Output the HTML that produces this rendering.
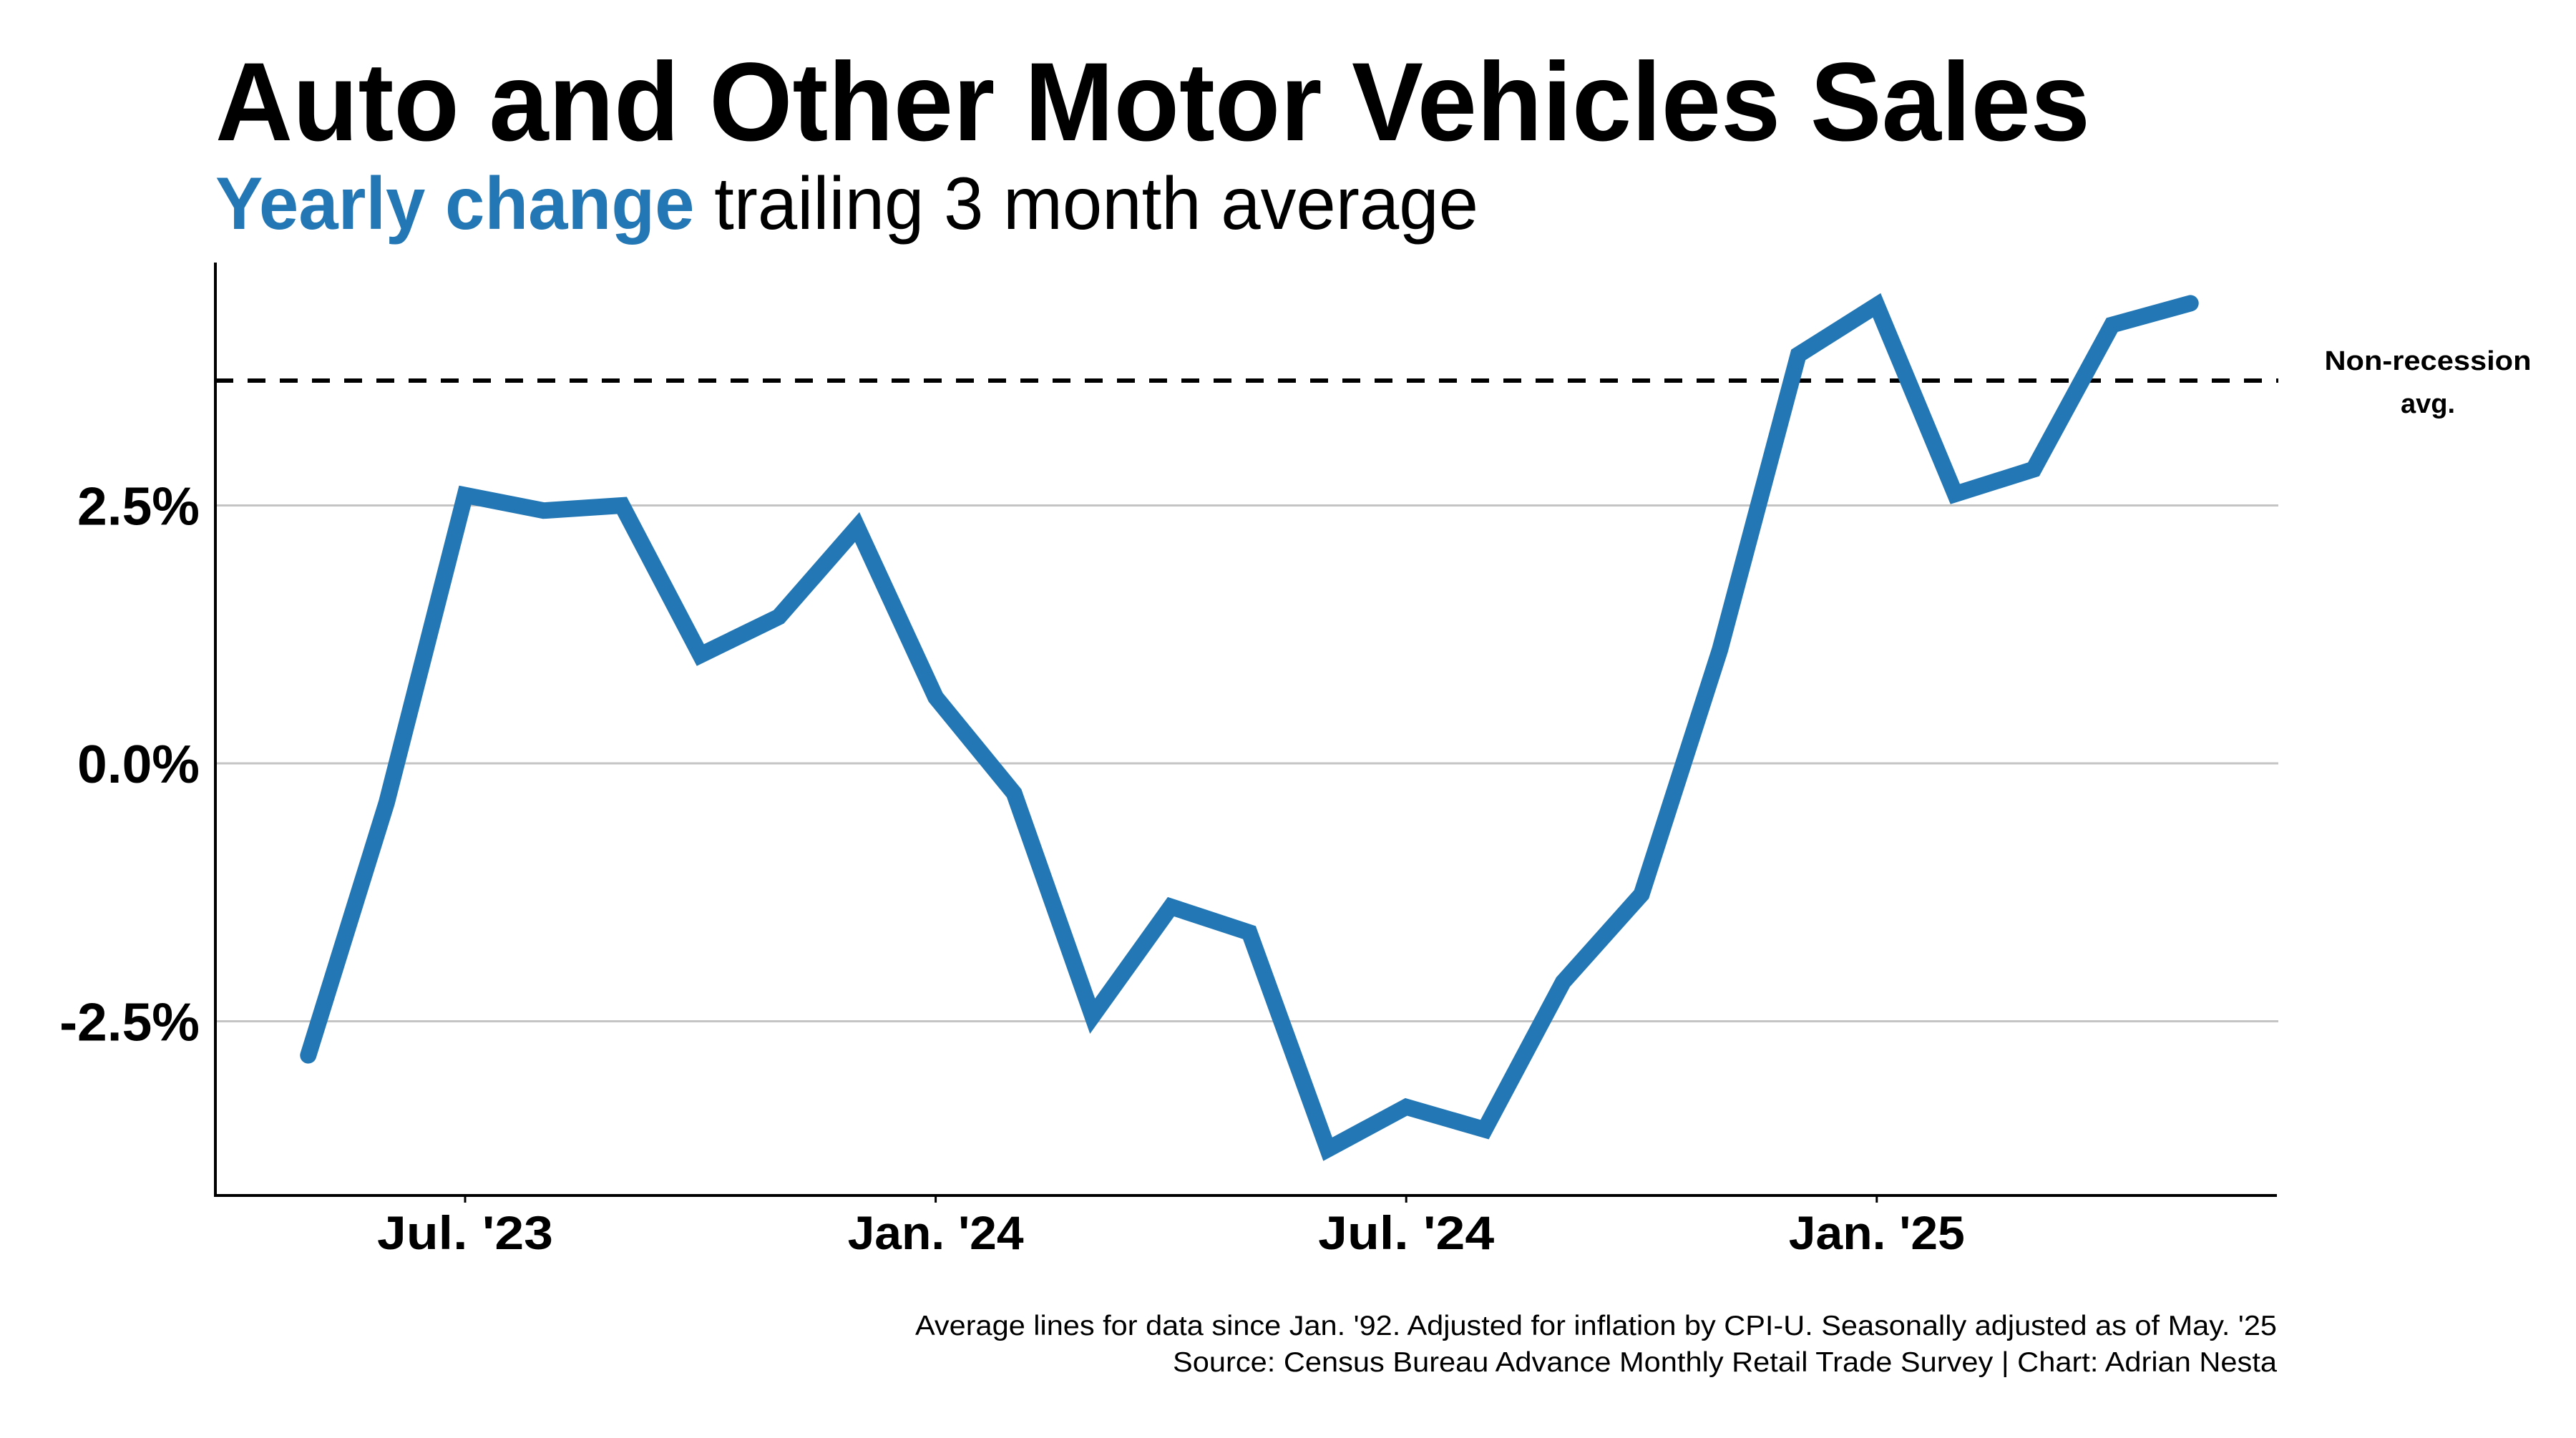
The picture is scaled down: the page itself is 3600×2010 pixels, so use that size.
<!DOCTYPE html>
<html><head><meta charset="utf-8"><style>
html,body{margin:0;padding:0;background:#fff;}
svg{display:block;font-family:"Liberation Sans",Arial,sans-serif;}
</style></head><body>
<svg id="chart" width="3600" height="2010" viewBox="0 0 3600 2010" xmlns="http://www.w3.org/2000/svg">
<text x="301" y="196" font-size="156" font-weight="bold" textLength="2620" lengthAdjust="spacingAndGlyphs">Auto and Other Motor Vehicles Sales</text>
<text x="301" y="320" font-size="104" textLength="1765" lengthAdjust="spacingAndGlyphs"><tspan fill="#2277b4" font-weight="bold">Yearly change</tspan> trailing 3 month average</text>
<g id="grid"></g>
<g id="yticks"></g>
<g id="xticks"></g>
<line id="refline" x1="301" x2="3184" stroke="#000" stroke-width="6" stroke-dasharray="25 20"/>
<text font-size="38" font-weight="bold" text-anchor="middle"><tspan x="3393" y="517" textLength="289" lengthAdjust="spacingAndGlyphs">Non-recession</tspan><tspan x="3393" y="577">avg.</tspan></text>
<path id="series" fill="none" stroke="#2277b4" stroke-width="23" stroke-linejoin="miter" stroke-linecap="round"/>
<line x1="301" y1="367" x2="301" y2="1673" stroke="#000" stroke-width="4"/>
<line x1="299" y1="1671" x2="3182" y2="1671" stroke="#000" stroke-width="4"/>
<text font-size="39" text-anchor="end"><tspan x="3182" y="1866" textLength="1903" lengthAdjust="spacingAndGlyphs">Average lines for data since Jan. '92. Adjusted for inflation by CPI-U. Seasonally adjusted as of May. '25</tspan><tspan x="3182" y="1917" textLength="1543" lengthAdjust="spacingAndGlyphs">Source: Census Bureau Advance Monthly Retail Trade Survey | Chart: Adrian Nesta</tspan></text>
</svg>
<script>
// data
const monthIndex = [-2,-1,0,1,2,3,4,5,6,7,8,9,10,11,12,13,14,15,16,17,18,19,20,21,22]; // months from Jul '23
const values = [-2.83,-0.38,2.60,2.45,2.50,1.05,1.42,2.29,0.64,-0.29,-2.45,-1.39,-1.64,-3.74,-3.33,-3.55,-2.12,-1.27,1.10,3.96,4.44,2.61,2.85,4.25,4.46];
const yTickValues = [-2.5,0,2.5];
const yTickLabels = ["-2.5%","0.0%","2.5%"];
const xTickMonths = [0,6,12,18];
const xTickLabels = ["Jul. '23","Jan. '24","Jul. '24","Jan. '25"];
const refValue = 3.71;

const NS="http://www.w3.org/2000/svg";
function xs(m){return 650 + m*109.6;}
function ys(v){return 1067 - v*144.2;}

const grid=document.getElementById('grid');
const yt=document.getElementById('yticks');
yTickValues.forEach((v,i)=>{
  const l=document.createElementNS(NS,'line');
  
  
  l.setAttribute('x1',301);l.setAttribute('x2',3184);
  l.setAttribute('y1',ys(v));l.setAttribute('y2',ys(v));
  l.setAttribute('stroke','#c4c4c4');l.setAttribute('stroke-width',3);
  grid.appendChild(l);
  const t=document.createElementNS(NS,'text');
  
  
  t.setAttribute('x',279);t.setAttribute('y',ys(v)+27);
  t.setAttribute('text-anchor','end');t.setAttribute('font-size',75);t.setAttribute('font-weight','bold');
  t.textContent=yTickLabels[i];
  yt.appendChild(t);
});
const xt=document.getElementById('xticks');
xTickMonths.forEach((m,i)=>{
  const k=document.createElementNS(NS,'line');
  
  
  k.setAttribute('x1',xs(m));k.setAttribute('x2',xs(m));k.setAttribute('y1',1671);k.setAttribute('y2',1681);
  k.setAttribute('stroke','#000');k.setAttribute('stroke-width',3);
  xt.appendChild(k);
  const t=document.createElementNS(NS,'text');
  
  
  t.setAttribute('x',xs(m));t.setAttribute('y',1746);
  t.setAttribute('text-anchor','middle');t.setAttribute('font-size',66);t.setAttribute('font-weight','bold');
  t.setAttribute('textLength',246);t.setAttribute('lengthAdjust','spacingAndGlyphs');
  t.textContent=xTickLabels[i];
  xt.appendChild(t);
});
const ref=document.getElementById('refline');
ref.setAttribute('y1',ys(refValue));ref.setAttribute('y2',ys(refValue));
document.getElementById('series').setAttribute('d',values.map((v,i)=>(i?'L':'M')+xs(monthIndex[i]).toFixed(1)+' '+ys(v).toFixed(1)).join(' '));
</script>
</body></html>
